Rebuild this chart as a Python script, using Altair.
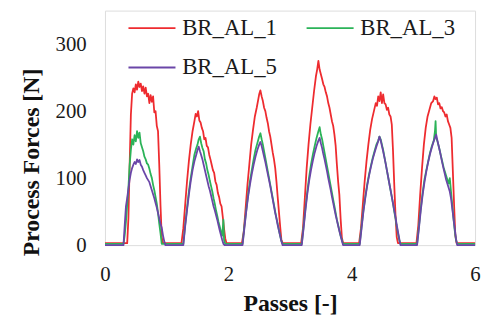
import altair as alt
import pandas as pd

series = ["BR_AL_1", "BR_AL_3", "BR_AL_5"]
colors = ["#ee2b2f", "#2bb358", "#6a46a8"]
widths = [1.8, 1.8, 3.0]

x_ticks = [0, 2, 4, 6]
y_ticks = [0, 100, 200, 300]

br_al_1 = [
    (0, 3), (0.36, 3), (0.38, 40), (0.40, 120), (0.42, 195), (0.44, 226), (0.46, 234), (0.48, 228),
    (0.50, 240), (0.52, 232), (0.54, 244), (0.56, 236), (0.58, 241), (0.60, 230), (0.62, 237),
    (0.64, 226), (0.66, 235), (0.68, 222), (0.70, 226), (0.72, 212), (0.74, 224), (0.76, 214),
    (0.78, 222), (0.80, 198), (0.82, 200), (0.84, 178), (0.86, 170), (0.88, 120), (0.90, 60),
    (0.92, 12), (0.94, 3), (1.24, 3),
    (1.27, 25), (1.30, 60), (1.33, 95), (1.36, 125), (1.39, 150), (1.42, 170), (1.45, 185),
    (1.47, 196), (1.49, 192), (1.51, 200), (1.53, 186), (1.55, 183), (1.57, 175), (1.59, 170),
    (1.61, 158), (1.63, 160), (1.65, 148), (1.67, 146), (1.69, 135), (1.71, 128), (1.73, 120),
    (1.75, 112), (1.77, 108), (1.79, 95), (1.81, 90), (1.83, 78), (1.85, 72), (1.87, 62),
    (1.89, 58), (1.91, 42), (1.93, 25), (1.95, 10), (1.97, 3), (2.22, 3),
    (2.25, 20), (2.28, 55), (2.31, 90), (2.34, 120), (2.37, 150), (2.40, 172), (2.43, 192),
    (2.46, 205), (2.48, 215), (2.50, 225), (2.52, 231), (2.54, 222), (2.56, 215), (2.58, 205),
    (2.60, 200), (2.62, 190), (2.64, 182), (2.66, 170), (2.68, 162), (2.70, 150), (2.72, 138),
    (2.74, 128), (2.76, 115), (2.78, 95), (2.80, 72), (2.82, 50), (2.84, 28), (2.86, 8),
    (2.88, 3), (3.18, 3),
    (3.21, 25), (3.24, 70), (3.27, 115), (3.30, 150), (3.33, 180), (3.36, 205), (3.39, 230),
    (3.42, 252), (3.44, 262), (3.46, 275), (3.48, 262), (3.50, 255), (3.52, 248), (3.54, 240),
    (3.56, 236), (3.58, 228), (3.60, 222), (3.62, 212), (3.64, 205), (3.66, 195), (3.68, 185),
    (3.70, 178), (3.72, 165), (3.74, 148), (3.76, 120), (3.78, 95), (3.80, 75), (3.82, 40),
    (3.84, 12), (3.86, 3), (4.12, 3),
    (4.15, 25), (4.18, 60), (4.21, 95), (4.24, 125), (4.27, 150), (4.30, 172), (4.33, 188),
    (4.36, 200), (4.39, 212), (4.41, 208), (4.43, 222), (4.45, 215), (4.47, 228), (4.49, 212),
    (4.51, 225), (4.53, 212), (4.55, 210), (4.57, 202), (4.59, 205), (4.61, 195), (4.63, 192),
    (4.65, 180), (4.67, 140), (4.69, 90), (4.71, 45), (4.73, 12), (4.75, 3), (5.05, 3),
    (5.08, 30), (5.11, 75), (5.14, 115), (5.17, 150), (5.20, 175), (5.23, 192), (5.26, 202),
    (5.29, 212), (5.32, 215), (5.34, 222), (5.36, 218), (5.38, 220), (5.40, 210), (5.42, 212),
    (5.44, 204), (5.46, 206), (5.48, 200), (5.50, 198), (5.52, 192), (5.54, 195), (5.56, 185),
    (5.58, 180), (5.60, 175), (5.62, 160), (5.64, 110), (5.66, 60), (5.68, 15), (5.70, 3),
    (6.0, 3),
]

br_al_3 = [
    (0, 2), (0.30, 2), (0.32, 15), (0.34, 35), (0.36, 60), (0.38, 85), (0.40, 120), (0.42, 142),
    (0.44, 158), (0.46, 150), (0.48, 164), (0.50, 155), (0.52, 170), (0.54, 160), (0.56, 168),
    (0.58, 152), (0.60, 146), (0.62, 140), (0.64, 132), (0.66, 128), (0.68, 122), (0.70, 120),
    (0.72, 114), (0.74, 106), (0.76, 100), (0.78, 90), (0.80, 82), (0.82, 72), (0.84, 62),
    (0.86, 48), (0.88, 32), (0.90, 18), (0.92, 2), (1.27, 2),
    (1.30, 30), (1.33, 55), (1.36, 80), (1.39, 100), (1.42, 118), (1.45, 135), (1.48, 145),
    (1.50, 150), (1.52, 158), (1.54, 162), (1.56, 152), (1.58, 145), (1.60, 140), (1.62, 128),
    (1.64, 122), (1.66, 112), (1.68, 105), (1.70, 96), (1.72, 88), (1.74, 80), (1.76, 70),
    (1.78, 62), (1.80, 52), (1.82, 44), (1.84, 35), (1.86, 28), (1.88, 20), (1.90, 14),
    (1.92, 38), (1.93, 8), (1.95, 2), (2.23, 2),
    (2.26, 28), (2.29, 52), (2.32, 75), (2.35, 95), (2.38, 112), (2.41, 128), (2.44, 142),
    (2.47, 152), (2.50, 162), (2.52, 167), (2.54, 158), (2.56, 150), (2.58, 140), (2.60, 130),
    (2.62, 120), (2.64, 110), (2.66, 100), (2.68, 90), (2.70, 80), (2.72, 70), (2.74, 60),
    (2.76, 50), (2.78, 40), (2.80, 32), (2.82, 22), (2.84, 14), (2.86, 6), (2.88, 2), (3.19, 2),
    (3.22, 28), (3.25, 55), (3.28, 80), (3.31, 102), (3.34, 120), (3.37, 135), (3.40, 148),
    (3.43, 160), (3.46, 170), (3.48, 176), (3.50, 165), (3.52, 158), (3.54, 148), (3.56, 138),
    (3.58, 128), (3.60, 118), (3.62, 108), (3.64, 98), (3.66, 88), (3.68, 78), (3.70, 68),
    (3.72, 58), (3.74, 48), (3.76, 38), (3.78, 30), (3.80, 22), (3.82, 14), (3.84, 8),
    (3.86, 2), (4.13, 2),
    (4.16, 28), (4.19, 52), (4.22, 72), (4.25, 90), (4.28, 105), (4.31, 118), (4.34, 130),
    (4.37, 140), (4.40, 150), (4.43, 156), (4.45, 162), (4.47, 158), (4.49, 150), (4.51, 142),
    (4.53, 132), (4.55, 122), (4.57, 112), (4.59, 102), (4.61, 92), (4.63, 82), (4.65, 72),
    (4.67, 62), (4.69, 50), (4.71, 40), (4.73, 28), (4.75, 18), (4.77, 8), (4.79, 2), (5.06, 2),
    (5.09, 28), (5.12, 55), (5.15, 78), (5.18, 98), (5.21, 112), (5.24, 125), (5.27, 138),
    (5.30, 148), (5.33, 156), (5.35, 170), (5.36, 185), (5.37, 160), (5.39, 155), (5.41, 148),
    (5.43, 140), (5.45, 132), (5.47, 124), (5.49, 116), (5.51, 110), (5.53, 104), (5.55, 98),
    (5.57, 92), (5.59, 100), (5.61, 80), (5.63, 60), (5.65, 40), (5.67, 22), (5.69, 8),
    (5.71, 2), (6.0, 2),
]

br_al_5 = [
    (0, 0), (0.30, 0), (0.32, 30), (0.34, 58), (0.36, 70), (0.38, 84), (0.40, 98), (0.42, 108),
    (0.44, 115), (0.46, 120), (0.48, 124), (0.50, 121), (0.52, 128), (0.54, 124), (0.56, 127),
    (0.58, 120), (0.60, 117), (0.62, 112), (0.64, 108), (0.66, 104), (0.68, 100), (0.70, 97),
    (0.72, 94), (0.74, 88), (0.76, 82), (0.78, 76), (0.80, 70), (0.82, 63), (0.84, 56),
    (0.86, 48), (0.88, 40), (0.90, 32), (0.92, 26), (0.94, 15), (0.96, 6), (0.98, 0), (1.27, 0),
    (1.30, 28), (1.33, 52), (1.36, 75), (1.39, 95), (1.42, 112), (1.45, 125), (1.48, 135),
    (1.50, 142), (1.52, 147), (1.54, 140), (1.56, 134), (1.58, 128), (1.60, 120), (1.62, 112),
    (1.64, 104), (1.66, 96), (1.68, 88), (1.70, 82), (1.72, 74), (1.74, 66), (1.76, 58),
    (1.78, 52), (1.80, 45), (1.82, 38), (1.84, 30), (1.86, 22), (1.88, 15), (1.90, 8),
    (1.92, 2), (1.94, 0), (2.23, 0),
    (2.26, 25), (2.29, 50), (2.32, 72), (2.35, 90), (2.38, 106), (2.41, 120), (2.44, 132),
    (2.47, 142), (2.50, 150), (2.52, 154), (2.54, 148), (2.56, 140), (2.58, 132), (2.60, 124),
    (2.62, 115), (2.64, 106), (2.66, 97), (2.68, 88), (2.70, 78), (2.72, 68), (2.74, 58),
    (2.76, 48), (2.78, 40), (2.80, 30), (2.82, 22), (2.84, 14), (2.86, 6), (2.88, 0), (3.19, 0),
    (3.22, 25), (3.25, 52), (3.28, 76), (3.31, 96), (3.34, 112), (3.37, 126), (3.40, 138),
    (3.43, 148), (3.46, 156), (3.48, 160), (3.50, 152), (3.52, 145), (3.54, 136), (3.56, 128),
    (3.58, 119), (3.60, 110), (3.62, 100), (3.64, 91), (3.66, 82), (3.68, 72), (3.70, 63),
    (3.72, 54), (3.74, 45), (3.76, 37), (3.78, 29), (3.80, 21), (3.82, 14), (3.84, 7),
    (3.86, 0), (4.13, 0),
    (4.16, 25), (4.19, 50), (4.22, 70), (4.25, 88), (4.28, 103), (4.31, 116), (4.34, 128),
    (4.37, 138), (4.40, 147), (4.43, 155), (4.45, 162), (4.47, 156), (4.49, 148), (4.51, 140),
    (4.53, 131), (4.55, 122), (4.57, 112), (4.59, 102), (4.61, 92), (4.63, 82), (4.65, 72),
    (4.67, 62), (4.69, 52), (4.71, 42), (4.73, 30), (4.75, 20), (4.77, 10), (4.79, 0), (5.06, 0),
    (5.09, 25), (5.12, 52), (5.15, 75), (5.18, 94), (5.21, 110), (5.24, 124), (5.27, 136),
    (5.30, 146), (5.33, 155), (5.35, 160), (5.37, 165), (5.39, 156), (5.41, 148), (5.43, 140),
    (5.45, 131), (5.47, 122), (5.49, 114), (5.51, 106), (5.53, 98), (5.55, 92), (5.57, 86),
    (5.59, 80), (5.61, 70), (5.63, 55), (5.65, 40), (5.67, 25), (5.69, 10), (5.71, 0), (6.0, 0),
]

rows = []
for name, pts in zip(series, [br_al_1, br_al_3, br_al_5]):
    for i, (xv, yv) in enumerate(pts):
        rows.append({"series": name, "x": xv, "y": yv, "i": i})
df = pd.DataFrame(rows)

FONT = "Liberation Serif, Times New Roman, serif"

chart = alt.Chart(df).mark_line(strokeJoin="round").encode(
    x=alt.X("x:Q",
            scale=alt.Scale(domain=[0, 6], nice=False, zero=False),
            axis=alt.Axis(values=x_ticks, title="Passes [-]", grid=False, ticks=False,
                          domain=False, labelFlush=False, labelPadding=19, labelFontSize=21,
                          labelFont=FONT, labelColor="#1a1a1a", titleFont=FONT,
                          titleFontSize=24, titleFontWeight="bold", titleColor="#111111",
                          titleBaseline="alphabetic", titleY=66)),
    y=alt.Y("y:Q",
            scale=alt.Scale(domain=[0, 350], nice=False),
            axis=alt.Axis(values=y_ticks, title="Process Forces [N]", grid=False, ticks=False,
                          domain=False, labelFlush=False, labelPadding=19, labelFontSize=21,
                          labelFont=FONT, labelColor="#1a1a1a", titleFont=FONT,
                          titleFontSize=24, titleFontWeight="bold", titleColor="#111111",
                          titleBaseline="alphabetic", titleX=-67, titleY=153)),
    color=alt.Color("series:N",
                    scale=alt.Scale(domain=series, range=colors),
                    legend=alt.Legend(title=None, orient="none", legendX=36, legendY=6,
                                      direction="horizontal",
                                      columns=2, symbolType="M-2.5,0H2.5", symbolSize=361,
                                      symbolStrokeWidth=2, labelFont=FONT, labelFontSize=23,
                                      labelColor="#1a1a1a", columnPadding=26, rowPadding=16,
                                      labelOffset=19, padding=0)),
    strokeWidth=alt.StrokeWidth("series:N",
                                scale=alt.Scale(domain=series, range=widths),
                                legend=None),
    order="i:Q",
).properties(
    width=374, height=237,
    autosize=alt.AutoSizeParams(type="none"),
    padding={"left": 98, "top": 1, "right": 6, "bottom": 72},
).configure_view(
    stroke="#000000", strokeWidth=1.2
).configure(background="white")

chart.save("out.html", embed_options={"renderer": "svg", "actions": False})
